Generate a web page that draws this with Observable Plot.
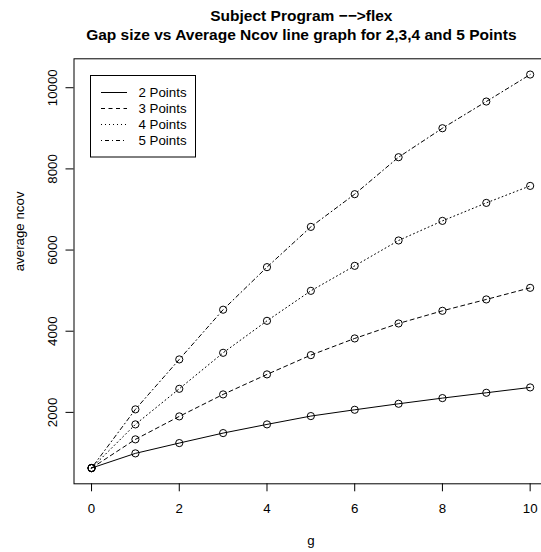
<!DOCTYPE html>
<html>
<head>
<meta charset="utf-8">
<script src="https://cdn.jsdelivr.net/npm/d3@7"></script>
<script src="https://cdn.jsdelivr.net/npm/@observablehq/plot@0.6"></script>
<style>
  body { margin: 0; background: #fff; }
  svg { font-family: "Liberation Sans", Arial, sans-serif; }
</style>
</head>
<body>
<div id="chart"></div>
<script>
const gaps = [0, 1, 2, 3, 4, 5, 6, 7, 8, 9, 10];
const points2 = [628, 990, 1244, 1490, 1704, 1909, 2064, 2212, 2352, 2483, 2615];
const points3 = [628, 1335, 1901, 2443, 2936, 3411, 3822, 4191, 4503, 4783, 5069];
const points4 = [628, 1704, 2581, 3468, 4256, 4995, 5611, 6236, 6719, 7162, 7581];
const points5 = [628, 2074, 3305, 4530, 5579, 6571, 7377, 8288, 9002, 9660, 10325];
const seriesNames = ["2 Points", "3 Points", "4 Points", "5 Points"];
const seriesValues = [points2, points3, points4, points5];
const dashes = [null, "4,3.5", "1,3", "1,3,4,3"];
const xTicks = [0, 2, 4, 6, 8, 10];
const yTicks = [2000, 4000, 6000, 8000, 10000];
const titleLines = ["Subject Program \u2212\u2212>flex", "Gap size vs Average Ncov line graph for 2,3,4 and 5 Points"];
const xLabel = "g";
const yLabel = "average ncov";

const rows = [];
seriesNames.forEach((s, i) => gaps.forEach((g, j) => rows.push({series: s, g, v: seriesValues[i][j]})));

const all = seriesValues.flat();
const ymin = d3.min(all), ymax = d3.max(all);
const ypad = (ymax - ymin) * 0.04;
const xpad = (d3.max(gaps) - d3.min(gaps)) * 0.04;

const W = 541, H = 552;
const FS = 13.3;
const marks = [
  Plot.frame({stroke: "#000", strokeWidth: 1}),
];
seriesNames.forEach((s, i) => {
  const data = rows.filter(r => r.series === s);
  marks.push(Plot.line(data, {x: "g", y: "v", stroke: "#000", strokeWidth: 1, strokeDasharray: dashes[i] || undefined}));
});
marks.push(Plot.dot(rows, {x: "g", y: "v", r: 3.6, stroke: "#000", strokeWidth: 1, fill: "none"}));
marks.push(Plot.axisX({ticks: xTicks, tickSize: 8, tickPadding: 12, fontSize: FS, label: null, tickFormat: d => String(d)}));
marks.push(Plot.axisY({ticks: yTicks, tickSize: 8, tickFormat: () => "", label: null}));
marks.push(Plot.text(yTicks, {y: d => d, text: d => String(d), frameAnchor: "left", dx: -17.5, rotate: -90, textAnchor: "middle", fontSize: FS, lineAnchor: "bottom"}));
marks.push(Plot.text([xLabel], {text: d => d, frameAnchor: "bottom", dy: 61.5, fontSize: FS, lineAnchor: "bottom"}));
marks.push(Plot.text([yLabel], {text: d => d, frameAnchor: "left", dx: -50, rotate: -90, fontSize: FS, lineAnchor: "bottom"}));
marks.push(Plot.text([titleLines[0]], {text: d => d, frameAnchor: "top", dx: -9.5, dy: -38.3, fontSize: 15.5, fontWeight: "bold", lineAnchor: "bottom"}));
marks.push(Plot.text([titleLines[1]], {text: d => d, frameAnchor: "top", dx: -9.5, dy: -19.3, fontSize: 15.5, fontWeight: "bold", lineAnchor: "bottom"}));

const chart = Plot.plot({
  width: W,
  height: H,
  marginLeft: 73.5,
  marginRight: -6.2,
  marginTop: 58.3,
  marginBottom: 68.7,
  style: {fontFamily: "Liberation Sans, Arial, sans-serif", fontSize: FS + "px", color: "#000", background: "#fff", overflow: "hidden"},
  x: {domain: [d3.min(gaps) - xpad, d3.max(gaps) + xpad]},
  y: {domain: [ymin - ypad, ymax + ypad]},
  marks
});

// Legend (R-style box)
const svg = d3.select(chart);
const lg = svg.append("g").attr("font-size", FS).attr("font-family", "Liberation Sans, Arial, sans-serif").attr("text-anchor", "start");
lg.append("rect").attr("x", 90.5).attr("y", 75.5).attr("width", 105).attr("height", 81.5)
  .attr("fill", "#fff").attr("stroke", "#000").attr("stroke-width", 1);
seriesNames.forEach((s, i) => {
  const y = 92.5 + i * 16;
  lg.append("line").attr("x1", 101).attr("x2", 127).attr("y1", y).attr("y2", y)
    .attr("stroke", "#000").attr("stroke-width", 1).attr("stroke-dasharray", dashes[i]);
  lg.append("text").attr("x", 138.5).attr("y", y).attr("dy", "0.35em").attr("text-anchor", "start").text(s);
});

document.getElementById("chart").appendChild(chart);
</script>
</body>
</html>
